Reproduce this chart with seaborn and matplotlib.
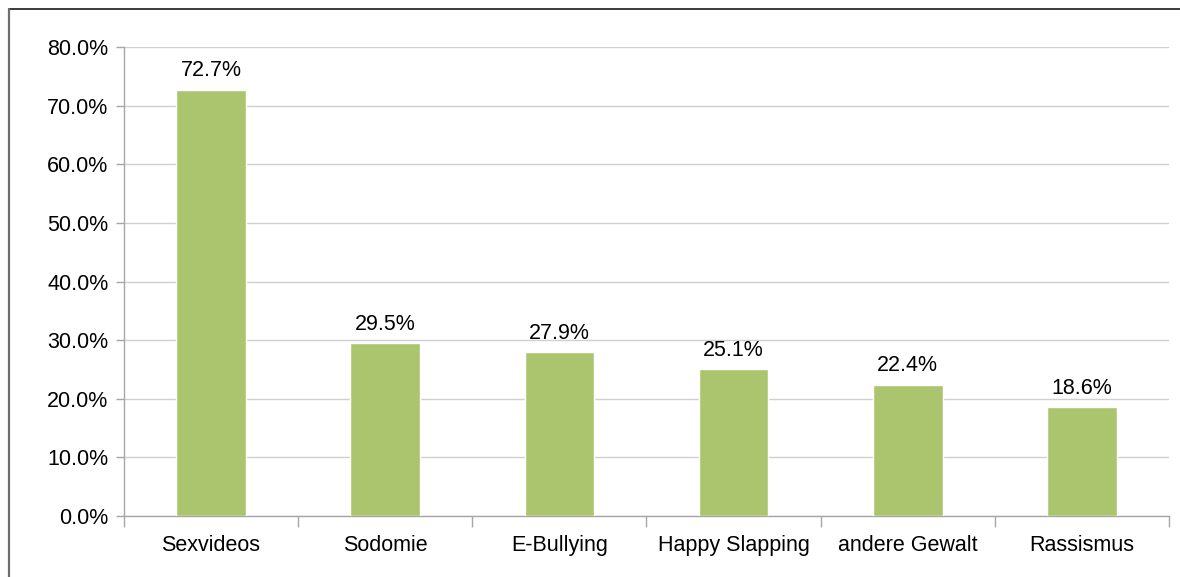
import numpy as np
import pandas as pd
import matplotlib
matplotlib.use('Agg')
import matplotlib.pyplot as plt
from matplotlib.lines import Line2D
from matplotlib.ticker import FuncFormatter, FixedLocator
import seaborn as sns

categories = ['Sexvideos', 'Sodomie', 'E-Bullying', 'Happy Slapping',
              'andere Gewalt', 'Rassismus']
values = [72.7, 29.5, 27.9, 25.1, 22.4, 18.6]
y_ticks = [0, 10, 20, 30, 40, 50, 60, 70, 80]

BAR_COLOR = '#ABC56F'
GRID_COLOR = '#D0D0D0'
AXIS_COLOR = '#A6A6A6'
FS = 15.5

sns.set_theme(style='white')
plt.rcParams['font.family'] = ['Liberation Sans', 'DejaVu Sans']

df = pd.DataFrame({'cat': categories, 'val': values})

fig = plt.figure(figsize=(11.8, 5.77), dpi=100)
ax = fig.add_axes([0.105, 0.1057, 0.8857, 0.8128])

sns.barplot(data=df, x='cat', y='val', order=categories, color=BAR_COLOR,
            saturation=1, width=0.4, ax=ax, zorder=3)

ax.bar_label(ax.containers[0], labels=['{:.1f}%'.format(v) for v in values],
             padding=6, fontsize=FS, color='black')

ax.set_ylim(0, 80)
ax.set_xlim(-0.5, len(categories) - 0.5)
ax.yaxis.set_major_locator(FixedLocator(y_ticks))
ax.yaxis.set_major_formatter(FuncFormatter(lambda v, p: '{:.1f}%'.format(v)))
ax.grid(axis='y', color=GRID_COLOR, linewidth=1, zorder=0)
ax.set_axisbelow(True)

ax.xaxis.set_minor_locator(FixedLocator(np.arange(-0.5, len(categories), 1.0)))
ax.tick_params(axis='x', which='major', length=0, pad=14, labelsize=FS,
               colors='black')
ax.tick_params(axis='x', which='minor', length=8, width=1, color=AXIS_COLOR,
               bottom=True)
ax.tick_params(axis='y', which='major', length=6, width=1, color=AXIS_COLOR,
               left=True, pad=5, labelsize=FS, labelcolor='black')

for side in ['top', 'right']:
    ax.spines[side].set_visible(False)
for side in ['left', 'bottom']:
    ax.spines[side].set_color(AXIS_COLOR)
    ax.spines[side].set_linewidth(1)

ax.set_xlabel('')
ax.set_ylabel('')

# Rahmen um das Diagramm (nur oben und links sichtbar)
fig.add_artist(Line2D([9 / 1180, 1.0], [1 - 9 / 577, 1 - 9 / 577],
                      transform=fig.transFigure, color='#1a1a1a', linewidth=1.2))
fig.add_artist(Line2D([9 / 1180, 9 / 1180], [0, 1 - 9 / 577],
                      transform=fig.transFigure, color='#6e6e6e', linewidth=1.6))

fig.savefig('out.png', dpi=100)
